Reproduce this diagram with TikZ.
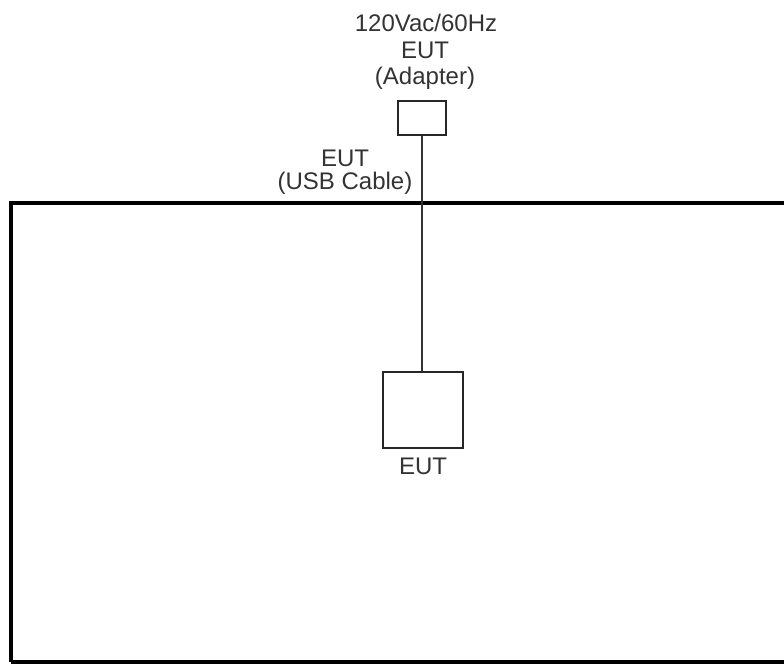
\documentclass[tikz,border=0pt]{standalone}
\usepackage{fontspec}
\setmainfont{Liberation Sans}
\begin{document}
\begin{tikzpicture}[x=1pt,y=-1pt,
  lbl/.style={inner sep=0pt,text=black!80,font=\fontsize{24}{27}\selectfont,align=center},
  box/.style={draw=black!85,line width=1.8pt,inner sep=0pt},
  wire/.style={draw=black!80,line width=1.6pt}]
\useasboundingbox (0,0) rectangle (784,666);
\clip (0,0) rectangle (784,666);
\draw[line width=4pt] (11,662) -- (11,203) -- (810,203);
\draw[line width=4pt] (11,662) -- (810,662);
\node[box,minimum width=48pt,minimum height=34pt] (adp) at (422,118) {};
\node[box,minimum width=80pt,minimum height=76pt] (eut) at (423,410) {};
\draw[wire] (adp.south -| 422,0) -- (eut.north -| 422,0);
\node[lbl] (t1) at (426,23) {120Vac/60Hz};
\node[lbl] (t2) at (425,50) {EUT};
\node[lbl] (t3) at (425,78) {(Adapter)};
\node[lbl] (t4) at (345,158) {EUT};
\node[lbl] (t5) at (345,183) {(USB Cable)};
\node[lbl] (t6) at (423,466) {EUT};
\end{tikzpicture}
\end{document}
